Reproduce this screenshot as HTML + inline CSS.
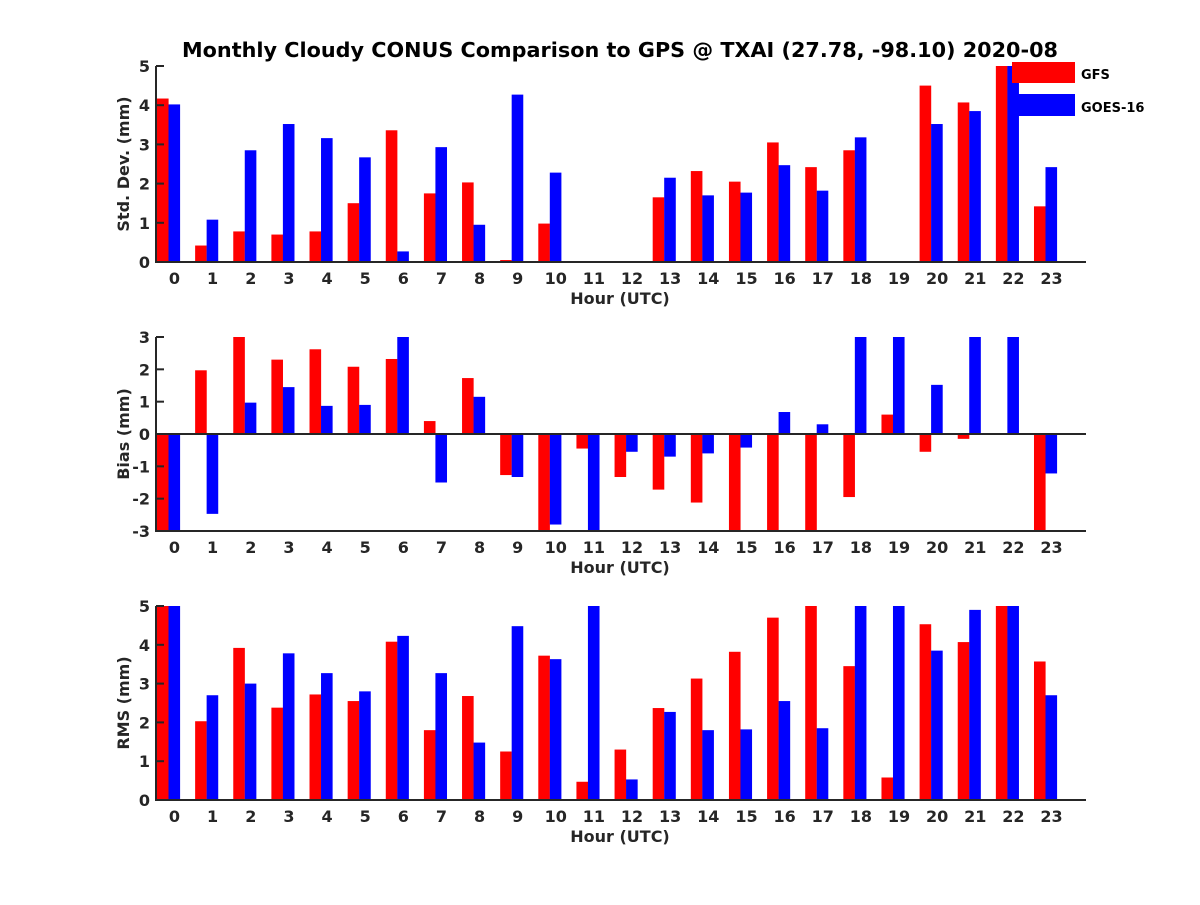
<!DOCTYPE html>
<html><head><meta charset="utf-8"><style>
body{margin:0;background:#fff}
svg text{font-family:"DejaVu Sans","Liberation Sans",sans-serif;font-weight:bold;fill:#262626}
</style></head><body>
<svg id="chart" width="1200" height="900" xmlns="http://www.w3.org/2000/svg">
<text x="620" y="57" text-anchor="middle" font-size="20" textLength="876" lengthAdjust="spacingAndGlyphs" style="fill:#000">Monthly Cloudy CONUS Comparison to GPS @ TXAI (27.78, -98.10) 2020-08</text>
<g id="plots"></g>
<g>
<rect x="1012" y="62" width="63" height="21" fill="#ff0000"/>
<text x="1081" y="79" font-size="13" style="fill:#000">GFS</text>
<rect x="1018" y="94" width="57" height="22" fill="#0000ff"/>
<text x="1081" y="112" font-size="13" style="fill:#000">GOES-16</text>
</g>
</svg>
<script>
const hours = [0,1,2,3,4,5,6,7,8,9,10,11,12,13,14,15,16,17,18,19,20,21,22,23];
const stdGFS  = [4.17,0.42,0.78,0.7,0.78,1.5,3.36,1.75,2.03,0.05,0.98,null,null,1.65,2.32,2.05,3.05,2.42,2.85,null,4.5,4.07,5,1.42];
const stdGOES = [4.02,1.08,2.85,3.52,3.16,2.67,0.27,2.93,0.95,4.27,2.28,null,null,2.15,1.7,1.77,2.47,1.82,3.18,null,3.52,3.85,5,2.42];
const biasGFS  = [-3,1.97,3,2.3,2.62,2.08,2.32,0.4,1.73,-1.27,-3,-0.45,-1.33,-1.72,-2.12,-3,-3,-3,-1.95,0.6,-0.55,-0.15,0,-3];
const biasGOES = [-3,-2.47,0.97,1.45,0.87,0.9,3,-1.5,1.15,-1.33,-2.8,-3,-0.55,-0.7,-0.6,-0.42,0.68,0.3,3,3,1.52,3,3,-1.22];
const rmsGFS  = [5,2.03,3.92,2.38,2.72,2.55,4.08,1.8,2.68,1.25,3.72,0.47,1.3,2.37,3.13,3.82,4.7,5,3.45,0.58,4.53,4.07,5,3.57];
const rmsGOES = [5,2.7,3.0,3.78,3.27,2.8,4.23,3.27,1.48,4.48,3.63,5,0.53,2.27,1.8,1.82,2.55,1.85,5,5,3.85,4.9,5,2.7];
const stdTicks = [0,1,2,3,4,5];
const biasTicks = [-3,-2,-1,0,1,2,3];
const rmsTicks = [0,1,2,3,4,5];

const NS="http://www.w3.org/2000/svg";
const root=document.getElementById('plots');
function mk(tag,attrs,parent){const e=document.createElementNS(NS,tag);for(const k in attrs)e.setAttribute(k,attrs[k]);parent.appendChild(e);return e;}
const X0=156,X1=1086;
function xLabel(h){return 174.5+h*38.13;}
function drawPanel(key,top,bottom,ymin,ymax,ticks,red,blue,ylabel){
  const g=mk('g',{},root);
  
  
  const y=v=>bottom-(Math.max(ymin,Math.min(ymax,v))-ymin)/(ymax-ymin)*(bottom-top);
  const base=y(Math.max(ymin,0));
  hours.forEach((h,i)=>{
    const xc=174+h*38.13;
    [[red[i],'#ff0000',xc-17,'gfs'],[blue[i],'#0000ff',xc-5.5,'goes']].forEach(([v,c,x,s])=>{
      if(v===null||v===0)return;
      const yv=y(v);
      const r=mk('rect',{x:x,y:Math.min(yv,base),width:11.6,height:Math.abs(base-yv),fill:c},g);
      
      
    });
  });
  const ax=mk('path',{d:`M${X0},${top}V${bottom}H${X1}`,fill:'none',stroke:'#262626','stroke-width':2},g);
  
  
  if(ymin<0){const z=mk('line',{x1:X0,x2:X1,y1:base,y2:base,stroke:'#262626','stroke-width':2},g);
    
    }
  ticks.forEach(t=>{
    const ty=y(t);
    mk('line',{x1:X0,x2:X0+8,y1:ty,y2:ty,stroke:'#262626','stroke-width':2},g);
    const tx=mk('text',{x:150,y:ty+6,'text-anchor':'end','font-size':16},g);
    tx.textContent=t;
    
    
  });
  hours.forEach(h=>{
    const tx=mk('text',{x:xLabel(h),y:bottom+22,'text-anchor':'middle','font-size':16},g);
    tx.textContent=h;
    
    
  });
  const xl=mk('text',{x:620,y:bottom+42,'text-anchor':'middle','font-size':16},g);
  xl.textContent='Hour (UTC)';
  
  
  const cy=(top+bottom)/2;
  const yl=mk('text',{x:0,y:0,'text-anchor':'middle','font-size':16,transform:`translate(129,${cy}) rotate(-90)`},g);
  yl.textContent=ylabel;
  
  
}
drawPanel('std',66,262,0,5,stdTicks,stdGFS,stdGOES,'Std. Dev. (mm)');
drawPanel('bias',337,531,-3,3,biasTicks,biasGFS,biasGOES,'Bias (mm)');
drawPanel('rms',606,800,0,5,rmsTicks,rmsGFS,rmsGOES,'RMS (mm)');
</script>
</body></html>
